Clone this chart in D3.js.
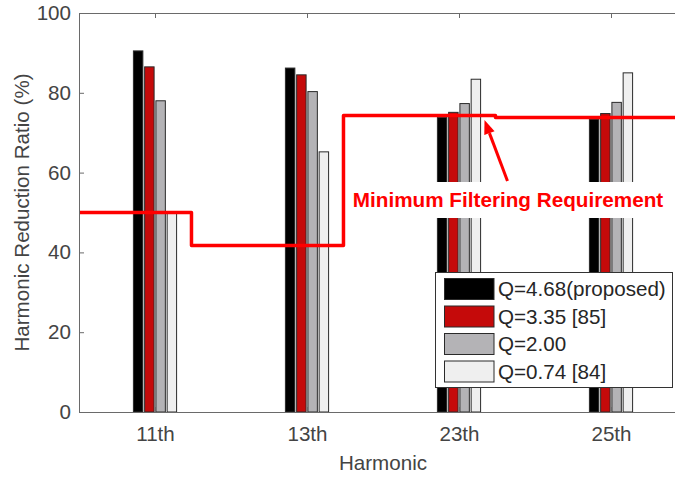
<!DOCTYPE html>
<html>
<head>
<meta charset="utf-8">
<script src="https://cdn.jsdelivr.net/npm/d3@7"></script>
<style>
  body { margin: 0; background: #fff; }
  svg { display: block; font-family: "Liberation Sans", Arial, Helvetica, sans-serif; }
</style>
</head>
<body>
<svg id="vis" width="675" height="477"></svg>
<script>
// chart data
var harmonics = ["11th", "13th", "23th", "25th"];
var seriesNames = ["Q=4.68(proposed)", "Q=3.35 [85]", "Q=2.00", "Q=0.74 [84]"];
var q468 = [90.5, 86.2, 73.8, 73.4];
var q335 = [86.5, 84.5, 75.1, 74.8];
var q200 = [78.0, 80.3, 77.3, 77.6];
var q074 = [49.8, 65.2, 83.4, 85.0];
var yTicks = [0, 20, 40, 60, 80, 100];
// minimum filtering requirement (stairs): x positions in category units and levels
var reqX = [0.5, 1.24, 2.24, 3.24, 4.5];
var reqY = [50.0, 41.7, 74.3, 73.8];

var colors = ["#000000", "#c50a0a", "#b4b3b6", "#efefef"];
var MARGINS = {top: 13, left: 79, bottom: 412, right: 687};
var FONT = "20.6px";

var display = d3.select("#vis");
var allSeries = [q468, q335, q200, q074];

var x = d3.scaleLinear().domain([0.5, 4.5]).range([MARGINS.left, MARGINS.right]);
var y = d3.scaleLinear().domain([0, 100]).range([MARGINS.bottom, MARGINS.top]);

// bars inside each group
var unit = x(1) - x(0);
var inner = d3.scaleBand()
    .domain(d3.range(seriesNames.length))
    .range([-0.148 * unit, 0.148 * unit])
    .paddingInner(0.16)
    .paddingOuter(0.08);

var bars = display.append("g");
allSeries.forEach(function (vals, s) {
    bars.selectAll(null)
        .data(vals)
        .enter()
        .append("rect")
        .attr("x", function (d, i) { return x(i + 1) + inner(s); })
        .attr("y", function (d) { return y(d); })
        .attr("width", inner.bandwidth())
        .attr("height", function (d) { return y(0) - y(d); })
        .attr("fill", colors[s])
        .attr("stroke", "#2a2a2a")
        .attr("stroke-width", 1);
});

// requirement line
var stairs = [];
reqY.forEach(function (v, i) {
    stairs.push([reqX[i], v]);
    stairs.push([reqX[i + 1], v]);
});
display.append("path")
    .attr("d", d3.line().x(d => x(d[0])).y(d => y(d[1]))(stairs))
    .attr("fill", "none")
    .attr("stroke", "#ff0000")
    .attr("stroke-width", 3.5)
    .attr("stroke-linejoin", "round");

// annotation with white background
display.append("rect")
    .attr("x", 347).attr("y", 182)
    .attr("width", 322).attr("height", 36)
    .attr("fill", "#fff");
display.append("text")
    .attr("x", 508)
    .attr("y", 207)
    .attr("text-anchor", "middle")
    .style("font-size", "20.7px")
    .style("font-weight", "bold")
    .attr("fill", "#ff0000")
    .text("Minimum Filtering Requirement");

// arrow
var ax0 = 507.5, ay0 = 181, ax1 = 484.5, ay1 = 120;
var ang = Math.atan2(ay1 - ay0, ax1 - ax0);
var headLen = 14, headW = 5.5;
var bx = ax1 - headLen * Math.cos(ang), by = ay1 - headLen * Math.sin(ang);
display.append("line")
    .attr("x1", ax0).attr("y1", ay0)
    .attr("x2", bx).attr("y2", by)
    .attr("stroke", "#ff0000")
    .attr("stroke-width", 3);
display.append("path")
    .attr("d", "M" + ax1 + "," + ay1 +
        "L" + (bx + headW * Math.sin(ang)) + "," + (by - headW * Math.cos(ang)) +
        "L" + (bx - headW * Math.sin(ang)) + "," + (by + headW * Math.cos(ang)) + "Z")
    .attr("fill", "#ff0000");

// axes
var axisColor = "#6a6a6a";
var labelColor = "#444";

var xAxis = d3.axisBottom(x)
    .tickValues([1, 2, 3, 4])
    .tickFormat(function (d) { return harmonics[d - 1]; })
    .tickSizeInner(-5)
    .tickSizeOuter(0)
    .tickPadding(14);
var xTop = d3.axisTop(x)
    .tickValues([1, 2, 3, 4])
    .tickFormat("")
    .tickSizeInner(-5)
    .tickSizeOuter(0);
var yAxis = d3.axisLeft(y)
    .tickValues(yTicks)
    .tickSizeInner(-5)
    .tickSizeOuter(0)
    .tickPadding(8);

var gx = display.append("g")
    .attr("transform", `translate(0, ${MARGINS.bottom})`)
    .call(xAxis);
var gt = display.append("g")
    .attr("transform", `translate(0, ${MARGINS.top})`)
    .call(xTop);
var gy = display.append("g")
    .attr("transform", `translate(${MARGINS.left}, 0)`)
    .call(yAxis);

[gx, gt, gy].forEach(function (g) {
    g.select(".domain").attr("stroke", axisColor);
    g.selectAll(".tick line").attr("stroke", axisColor);
    g.selectAll(".tick text")
        .attr("fill", labelColor)
        .style("font-size", FONT)
        .style("font-family", "'Liberation Sans', Arial, Helvetica, sans-serif");
});

// axis labels
display.append("text")
    .attr("x", (MARGINS.left + MARGINS.right) / 2)
    .attr("y", 470)
    .attr("text-anchor", "middle")
    .attr("fill", labelColor)
    .style("font-size", FONT)
    .text("Harmonic");
display.append("text")
    .attr("transform", `translate(29, ${(MARGINS.top + MARGINS.bottom) / 2}) rotate(-90)`)
    .attr("text-anchor", "middle")
    .attr("fill", labelColor)
    .style("font-size", FONT)
    .text("Harmonic Reduction Ratio (%)");

// legend
var legend = display.append("g");
legend.append("rect")
    .attr("x", 435.5).attr("y", 272.5)
    .attr("width", 237).attr("height", 115)
    .attr("fill", "#fff")
    .attr("stroke", "#333")
    .attr("stroke-width", 1);
var rows = legend.selectAll(".legend")
    .data(seriesNames)
    .enter()
    .append("g")
    .attr("class", "legend")
    .attr("transform", function (d, i) { return "translate(0," + (278.5 + i * 27.5) + ")"; });
rows.append("rect")
    .attr("x", 444.5)
    .attr("width", 49.5)
    .attr("height", 21)
    .attr("fill", function (d, i) { return colors[i]; })
    .attr("stroke", "#2a2a2a");
rows.append("text")
    .attr("x", 498)
    .attr("y", 10.5)
    .attr("dy", "0.35em")
    .attr("fill", "#262626")
    .style("font-size", FONT)
    .text(function (d) { return d; });
</script>
</body>
</html>
